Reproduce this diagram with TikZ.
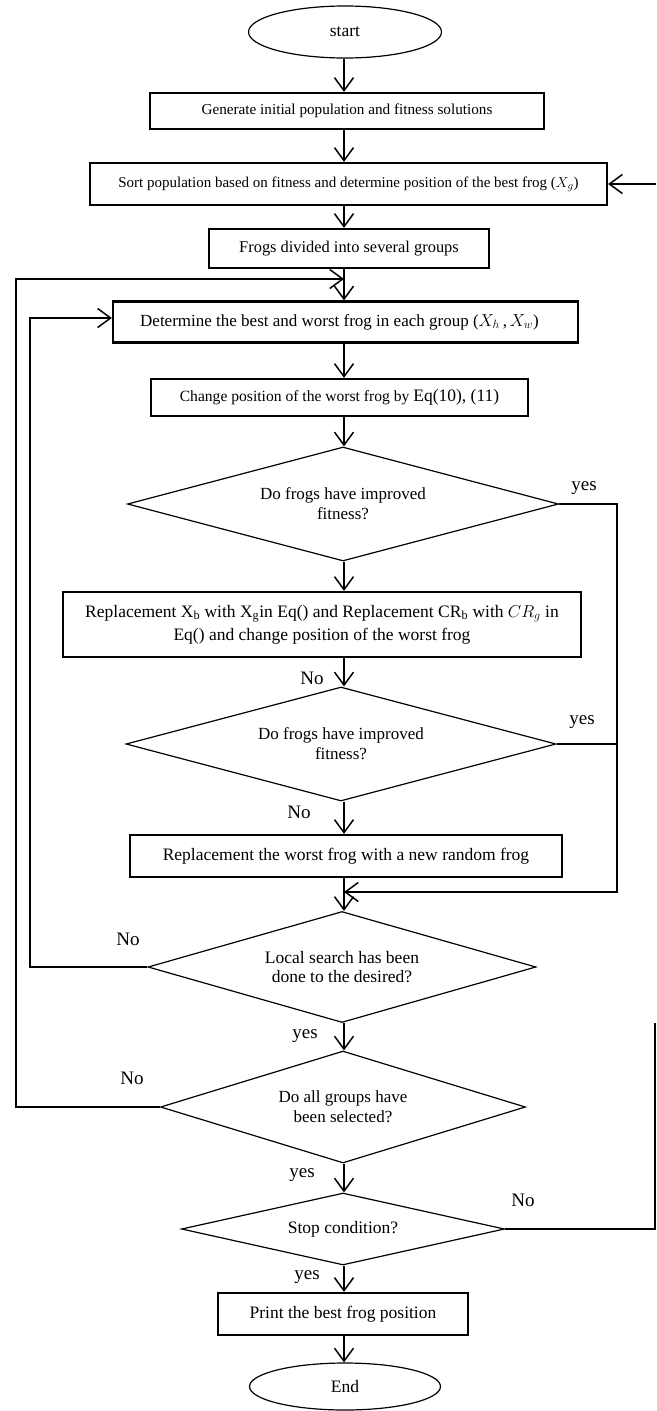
\documentclass[tikz,border=0pt]{standalone}
\usepackage{fontspec}
\setmainfont{Liberation Serif}
\usetikzlibrary{shapes.geometric,arrows.meta}
\begin{document}
\begin{tikzpicture}[x=1pt,y=-1pt,
  boxnode/.style={draw, rectangle, line width=2.2pt, inner sep=0pt, align=center},
  decnode/.style={draw, diamond, aspect=4, line width=1.2pt, inner sep=0pt, align=center,
    font=\fontsize{17}{20}\selectfont},
  termnode/.style={draw, ellipse, line width=1.2pt, inner sep=0pt, font=\fontsize{17.5}{20}\selectfont},
  conn/.style={line width=1.5pt, -{Straight Barb[length=13pt,width=19pt]}},
  plainline/.style={line width=1.5pt},
  lbl/.style={font=\fontsize{19}{22}\selectfont, inner sep=0pt},
]
\useasboundingbox (0,0) rectangle (656,1411);
\fill[white] (0,0) rectangle (656,1411);
\coordinate (spine) at (344,0);

\node[termnode, minimum width=193pt, minimum height=52pt] (start) at (345,32) {start};
\node[boxnode, minimum width=394pt, minimum height=36pt, font=\fontsize{15.2}{18}\selectfont] (gen) at (347,111) {Generate initial population and fitness solutions};
\node[boxnode, minimum width=517pt, minimum height=42pt, font=\fontsize{15}{18}\selectfont] (sort) at (348.5,184) {Sort population based on fitness and determine position of the best frog ($X_g$)};
\node[boxnode, minimum width=280pt, minimum height=39pt, font=\fontsize{16.4}{19}\selectfont] (grp) at (349,248.5) {Frogs divided into several groups};
\node[boxnode, minimum width=465pt, minimum height=41pt, font=\fontsize{17}{20}\selectfont] (det) at (345.5,322) {\hspace*{-12pt}Determine the best and worst frog in each group ($X_h$\,,\,$X_w$)};
\node[boxnode, minimum width=377pt, minimum height=37pt, font=\fontsize{15.6}{18}\selectfont] (chg) at (339.5,397.5) {Change position of the worst frog by {\fontsize{17.5}{20}\selectfont Eq(10), (11)}};
\node[decnode, minimum width=431pt, minimum height=114pt] (d1) at (343,504) {Do frogs have improved\\fitness?};
\node[boxnode, minimum width=518pt, minimum height=65pt, font=\fontsize{17.5}{23}\selectfont] (rep) at (322,624.5) {Replacement X$_\mathrm{b}$ with X$_\mathrm{g}$in Eq() and Replacement CR$_\mathrm{b}$ with $CR_g$ in\\Eq() and change position of the worst frog};
\node[decnode, minimum width=430pt, minimum height=114pt] (d2) at (341,744) {Do frogs have improved\\fitness?};
\node[boxnode, minimum width=432pt, minimum height=42pt, font=\fontsize{17.5}{20}\selectfont] (rnd) at (346,856) {Replacement the worst frog with a new random frog};
\node[decnode, minimum width=388pt, minimum height=111pt, font=\fontsize{17.5}{19}\selectfont] (d3) at (342,967) {Local search has been\\done to the desired?};
\node[decnode, minimum width=365pt, minimum height=112pt] (d4) at (343,1107) {Do all groups have\\been selected?};
\node[decnode, minimum width=323pt, minimum height=72pt, font=\fontsize{17.5}{20}\selectfont] (d5) at (343,1229) {Stop condition?};
\node[boxnode, minimum width=250pt, minimum height=42pt, font=\fontsize{17.5}{20}\selectfont] (prt) at (343,1314) {Print the best frog position};
\node[termnode, minimum width=191pt, minimum height=47pt] (fin) at (345,1386.5) {End};

% main spine
\draw[conn] (spine |- start.south) -- (spine |- gen.north);
\draw[conn] (spine |- gen.south) -- (spine |- sort.north);
\draw[conn] (spine |- sort.south) -- (spine |- grp.north);
\draw[conn] (spine |- grp.south) -- (spine |- det.north);
\draw[conn] (spine |- det.south) -- (spine |- chg.north);
\draw[conn] (spine |- chg.south) -- (spine |- d1.north);
\draw[conn] (spine |- d1.south) -- (spine |- rep.north);
\draw[conn] (spine |- rep.south) -- (spine |- d2.north);
\draw[conn] (spine |- d2.south) -- (spine |- rnd.north);
\draw[conn] (spine |- rnd.south) -- (spine |- d3.north);
\draw[conn] (spine |- d3.south) -- (spine |- d4.north);
\draw[conn] (spine |- d4.south) -- (spine |- d5.north);
\draw[conn] (spine |- d5.south) -- (spine |- prt.north);
\draw[conn] (spine |- prt.south) -- (spine |- fin.north);

% yes branches on the right
\coordinate (j1) at (617,892);
\draw[conn] (d1.east) -| (j1) -- (spine |- j1);
\draw[plainline] (d2.east) -- (j1 |- d2.east);

% inner loop
\coordinate (m2) at (30,967);
\draw[conn] (d3.west) -- (m2) |- ([yshift=4pt]det.west);

% outer loop
\coordinate (m1) at (344,279);
\draw[conn] (d4.west) -- (16,1107) |- (m1);

% stop condition loop (cut at the picture edge)
\coordinate (rtop) at (655,1023);
\draw[plainline] (d5.east) -| (rtop);
\coordinate (rin) at (656,184);
\draw[conn] (rin) -- (sort.east);

% labels
\node[lbl] (y1) at (584,488) {yes};
\node[lbl] (n1) at (312,678) {No};
\node[lbl] (y2) at (582,722) {yes};
\node[lbl] (n2) at (299,812) {No};
\node[lbl] (n3) at (128,939) {No};
\node[lbl] (y3) at (305,1036) {yes};
\node[lbl] (n4) at (132,1078) {No};
\node[lbl] (y4) at (302,1175) {yes};
\node[lbl] (n5) at (523,1200) {No};
\node[lbl] (y5) at (307,1277) {yes};
\end{tikzpicture}
\end{document}
